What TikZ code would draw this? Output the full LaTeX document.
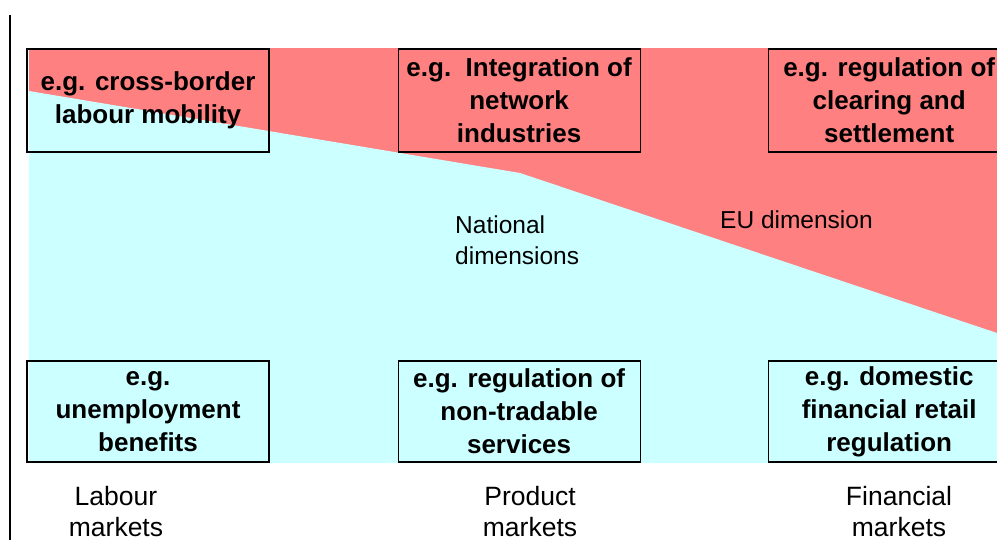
\documentclass[tikz,border=0pt]{standalone}
\usepackage{fontspec}
\setmainfont{Liberation Sans}
\usepackage{xcolor}
\usepackage{tikz}
\usetikzlibrary{positioning}

\definecolor{eured}{HTML}{FF8080}
\definecolor{natcyan}{HTML}{CCFFFF}

\begin{document}
\begin{tikzpicture}[x=1pt, y=-1pt, node distance=128pt,
  box/.style={draw, line width=1.1pt, minimum width=242pt, minimum height=103pt,
    inner sep=0pt, align=center, font=\fontsize{26}{33}\selectfont\bfseries},
  lbl/.style={inner sep=0pt, align=center, font=\fontsize{24.5}{31}\selectfont},
  mkt/.style={lbl, anchor=north, font=\fontsize{26.5}{31}\selectfont}]
\useasboundingbox (0,0) rectangle (997,540);

% EU share on top, national share below the kinked border
\fill[eured] (29,48) rectangle (997,463);
\fill[natcyan] (29,91) -- (520,173) -- (997,333) -- (997,463) -- (29,463) -- cycle;

\draw[line width=1.4pt] (10,15) -- (10,540);

\node[box] (mob) at (148,100.5) {e.g. cross-border\\labour mobility};
\node[box, right=of mob] (net) {e.g.\ \ Integration of\\network\\industries};
\node[box, right=127pt of net] (clr) {e.g. regulation of\\clearing and\\settlement};

\node[box, minimum height=101pt] (ben) at (148,411.5) {e.g.\\unemployment\\benefits};
\node[box, minimum height=101pt, right=of ben] (srv) {e.g. regulation of\\non-tradable\\services};
\node[box, minimum height=101pt, right=127pt of srv] (ret) {e.g. domestic\\financial retail\\regulation};

\node[lbl, anchor=west, align=left] (nat) at (455,240) {National\\dimensions};
\node[lbl, anchor=base west] (eu) at (720,229) {EU dimension};

\node[mkt] (lab) at (116,486) {Labour\\markets};
\node[mkt] (prd) at (530,486) {Product\\markets};
\node[mkt] (fin) at (899,486) {Financial\\markets};

\end{tikzpicture}
\end{document}
